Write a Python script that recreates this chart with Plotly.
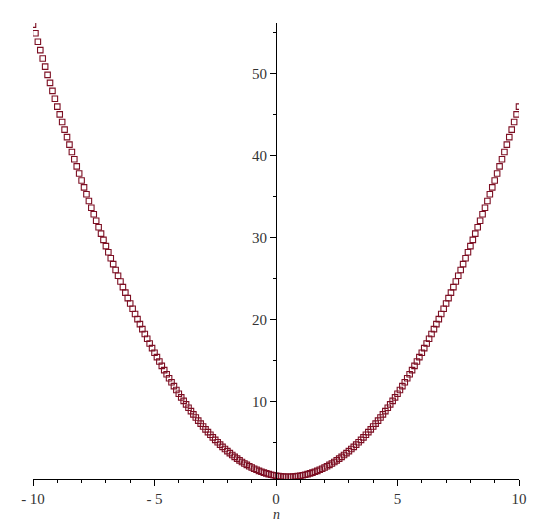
import plotly.graph_objects as go

# sample points (n from -10 to 10, step 0.1)
n_values = [
    -10.0, -9.9, -9.8, -9.7, -9.6, -9.5, -9.4, -9.3, -9.2, -9.1,
    -9.0, -8.9, -8.8, -8.7, -8.6, -8.5, -8.4, -8.3, -8.2, -8.1,
    -8.0, -7.9, -7.8, -7.7, -7.6, -7.5, -7.4, -7.3, -7.2, -7.1,
    -7.0, -6.9, -6.8, -6.7, -6.6, -6.5, -6.4, -6.3, -6.2, -6.1,
    -6.0, -5.9, -5.8, -5.7, -5.6, -5.5, -5.4, -5.3, -5.2, -5.1,
    -5.0, -4.9, -4.8, -4.7, -4.6, -4.5, -4.4, -4.3, -4.2, -4.1,
    -4.0, -3.9, -3.8, -3.7, -3.6, -3.5, -3.4, -3.3, -3.2, -3.1,
    -3.0, -2.9, -2.8, -2.7, -2.6, -2.5, -2.4, -2.3, -2.2, -2.1,
    -2.0, -1.9, -1.8, -1.7, -1.6, -1.5, -1.4, -1.3, -1.2, -1.1,
    -1.0, -0.9, -0.8, -0.7, -0.6, -0.5, -0.4, -0.3, -0.2, -0.1,
    0.0, 0.1, 0.2, 0.3, 0.4, 0.5, 0.6, 0.7, 0.8, 0.9,
    1.0, 1.1, 1.2, 1.3, 1.4, 1.5, 1.6, 1.7, 1.8, 1.9,
    2.0, 2.1, 2.2, 2.3, 2.4, 2.5, 2.6, 2.7, 2.8, 2.9,
    3.0, 3.1, 3.2, 3.3, 3.4, 3.5, 3.6, 3.7, 3.8, 3.9,
    4.0, 4.1, 4.2, 4.3, 4.4, 4.5, 4.6, 4.7, 4.8, 4.9,
    5.0, 5.1, 5.2, 5.3, 5.4, 5.5, 5.6, 5.7, 5.8, 5.9,
    6.0, 6.1, 6.2, 6.3, 6.4, 6.5, 6.6, 6.7, 6.8, 6.9,
    7.0, 7.1, 7.2, 7.3, 7.4, 7.5, 7.6, 7.7, 7.8, 7.9,
    8.0, 8.1, 8.2, 8.3, 8.4, 8.5, 8.6, 8.7, 8.8, 8.9,
    9.0, 9.1, 9.2, 9.3, 9.4, 9.5, 9.6, 9.7, 9.8, 9.9,
    10.0,
]

y_values = [
    56, 54.955, 53.92, 52.895, 51.88, 50.875, 49.88, 48.895, 47.92, 46.955,
    46, 45.055, 44.12, 43.195, 42.28, 41.375, 40.48, 39.595, 38.72, 37.855,
    37, 36.155, 35.32, 34.495, 33.68, 32.875, 32.08, 31.295, 30.52, 29.755,
    29, 28.255, 27.52, 26.795, 26.08, 25.375, 24.68, 23.995, 23.32, 22.655,
    22, 21.355, 20.72, 20.095, 19.48, 18.875, 18.28, 17.695, 17.12, 16.555,
    16, 15.455, 14.92, 14.395, 13.88, 13.375, 12.88, 12.395, 11.92, 11.455,
    11, 10.555, 10.12, 9.695, 9.28, 8.875, 8.48, 8.095, 7.72, 7.355,
    7, 6.655, 6.32, 5.995, 5.68, 5.375, 5.08, 4.795, 4.52, 4.255,
    4, 3.755, 3.52, 3.295, 3.08, 2.875, 2.68, 2.495, 2.32, 2.155,
    2, 1.855, 1.72, 1.595, 1.48, 1.375, 1.28, 1.195, 1.12, 1.055,
    1, 0.955, 0.92, 0.895, 0.88, 0.875, 0.88, 0.895, 0.92, 0.955,
    1, 1.055, 1.12, 1.195, 1.28, 1.375, 1.48, 1.595, 1.72, 1.855,
    2, 2.155, 2.32, 2.495, 2.68, 2.875, 3.08, 3.295, 3.52, 3.755,
    4, 4.255, 4.52, 4.795, 5.08, 5.375, 5.68, 5.995, 6.32, 6.655,
    7, 7.355, 7.72, 8.095, 8.48, 8.875, 9.28, 9.695, 10.12, 10.555,
    11, 11.455, 11.92, 12.395, 12.88, 13.375, 13.88, 14.395, 14.92, 15.455,
    16, 16.555, 17.12, 17.695, 18.28, 18.875, 19.48, 20.095, 20.72, 21.355,
    22, 22.655, 23.32, 23.995, 24.68, 25.375, 26.08, 26.795, 27.52, 28.255,
    29, 29.755, 30.52, 31.295, 32.08, 32.875, 33.68, 34.495, 35.32, 36.155,
    37, 37.855, 38.72, 39.595, 40.48, 41.375, 42.28, 43.195, 44.12, 45.055,
    46,
]

x_ticks = [-10, -5, 0, 5, 10]
x_tick_labels = ["- 10", "- 5", "0", "5", "10"]
y_ticks = [10, 20, 30, 40, 50]
y_tick_labels = ["10", "20", "30", "40", "50"]

fig = go.Figure()
fig.add_trace(go.Scatter(
    x=n_values, y=y_values, mode="markers",
    marker=dict(symbol="square-open", size=5.5, color="rgb(125,15,35)",
                line=dict(width=1.1, color="rgb(125,15,35)")),
    showlegend=False, hoverinfo="x+y",
))

axis_font = dict(family="Liberation Serif, Times New Roman, serif", size=15, color="#333")

# page body adds an 8px margin, so the figure is sized a bit smaller than the window
fig.update_layout(
    width=534, height=519,
    margin=dict(l=25, r=23, t=15, b=48),
    plot_bgcolor="white", paper_bgcolor="white",
    xaxis=dict(
        range=[-10, 10], showgrid=False, zeroline=False, automargin=False,
        showline=True, linecolor="black", linewidth=1,
        ticks="outside", ticklen=6, tickcolor="black",
        tickvals=x_ticks, ticktext=x_tick_labels, tickfont=axis_font,
        minor=dict(dtick=1, ticks="outside", ticklen=3, tickcolor="black"),
    ),
    yaxis=dict(
        range=[0.6, 56.2], showgrid=False, zeroline=False, automargin=False,
        anchor="free", position=0.5,
        showline=True, linecolor="black", linewidth=1,
        ticks="outside", ticklen=6, tickcolor="black",
        tickvals=y_ticks, ticktext=y_tick_labels, tickfont=axis_font,
        minor=dict(tickvals=[5, 15, 25, 35, 45, 55], ticks="outside", ticklen=3, tickcolor="black"),
    ),
)

# axis name under the horizontal axis
fig.add_annotation(
    text="<i>n</i>", x=0, xref="x", y=0, yref="paper",
    yanchor="top", yshift=-26, showarrow=False,
    font=dict(family="Liberation Serif, serif", size=14, color="#333"),
)

fig.write_html("out.html")
